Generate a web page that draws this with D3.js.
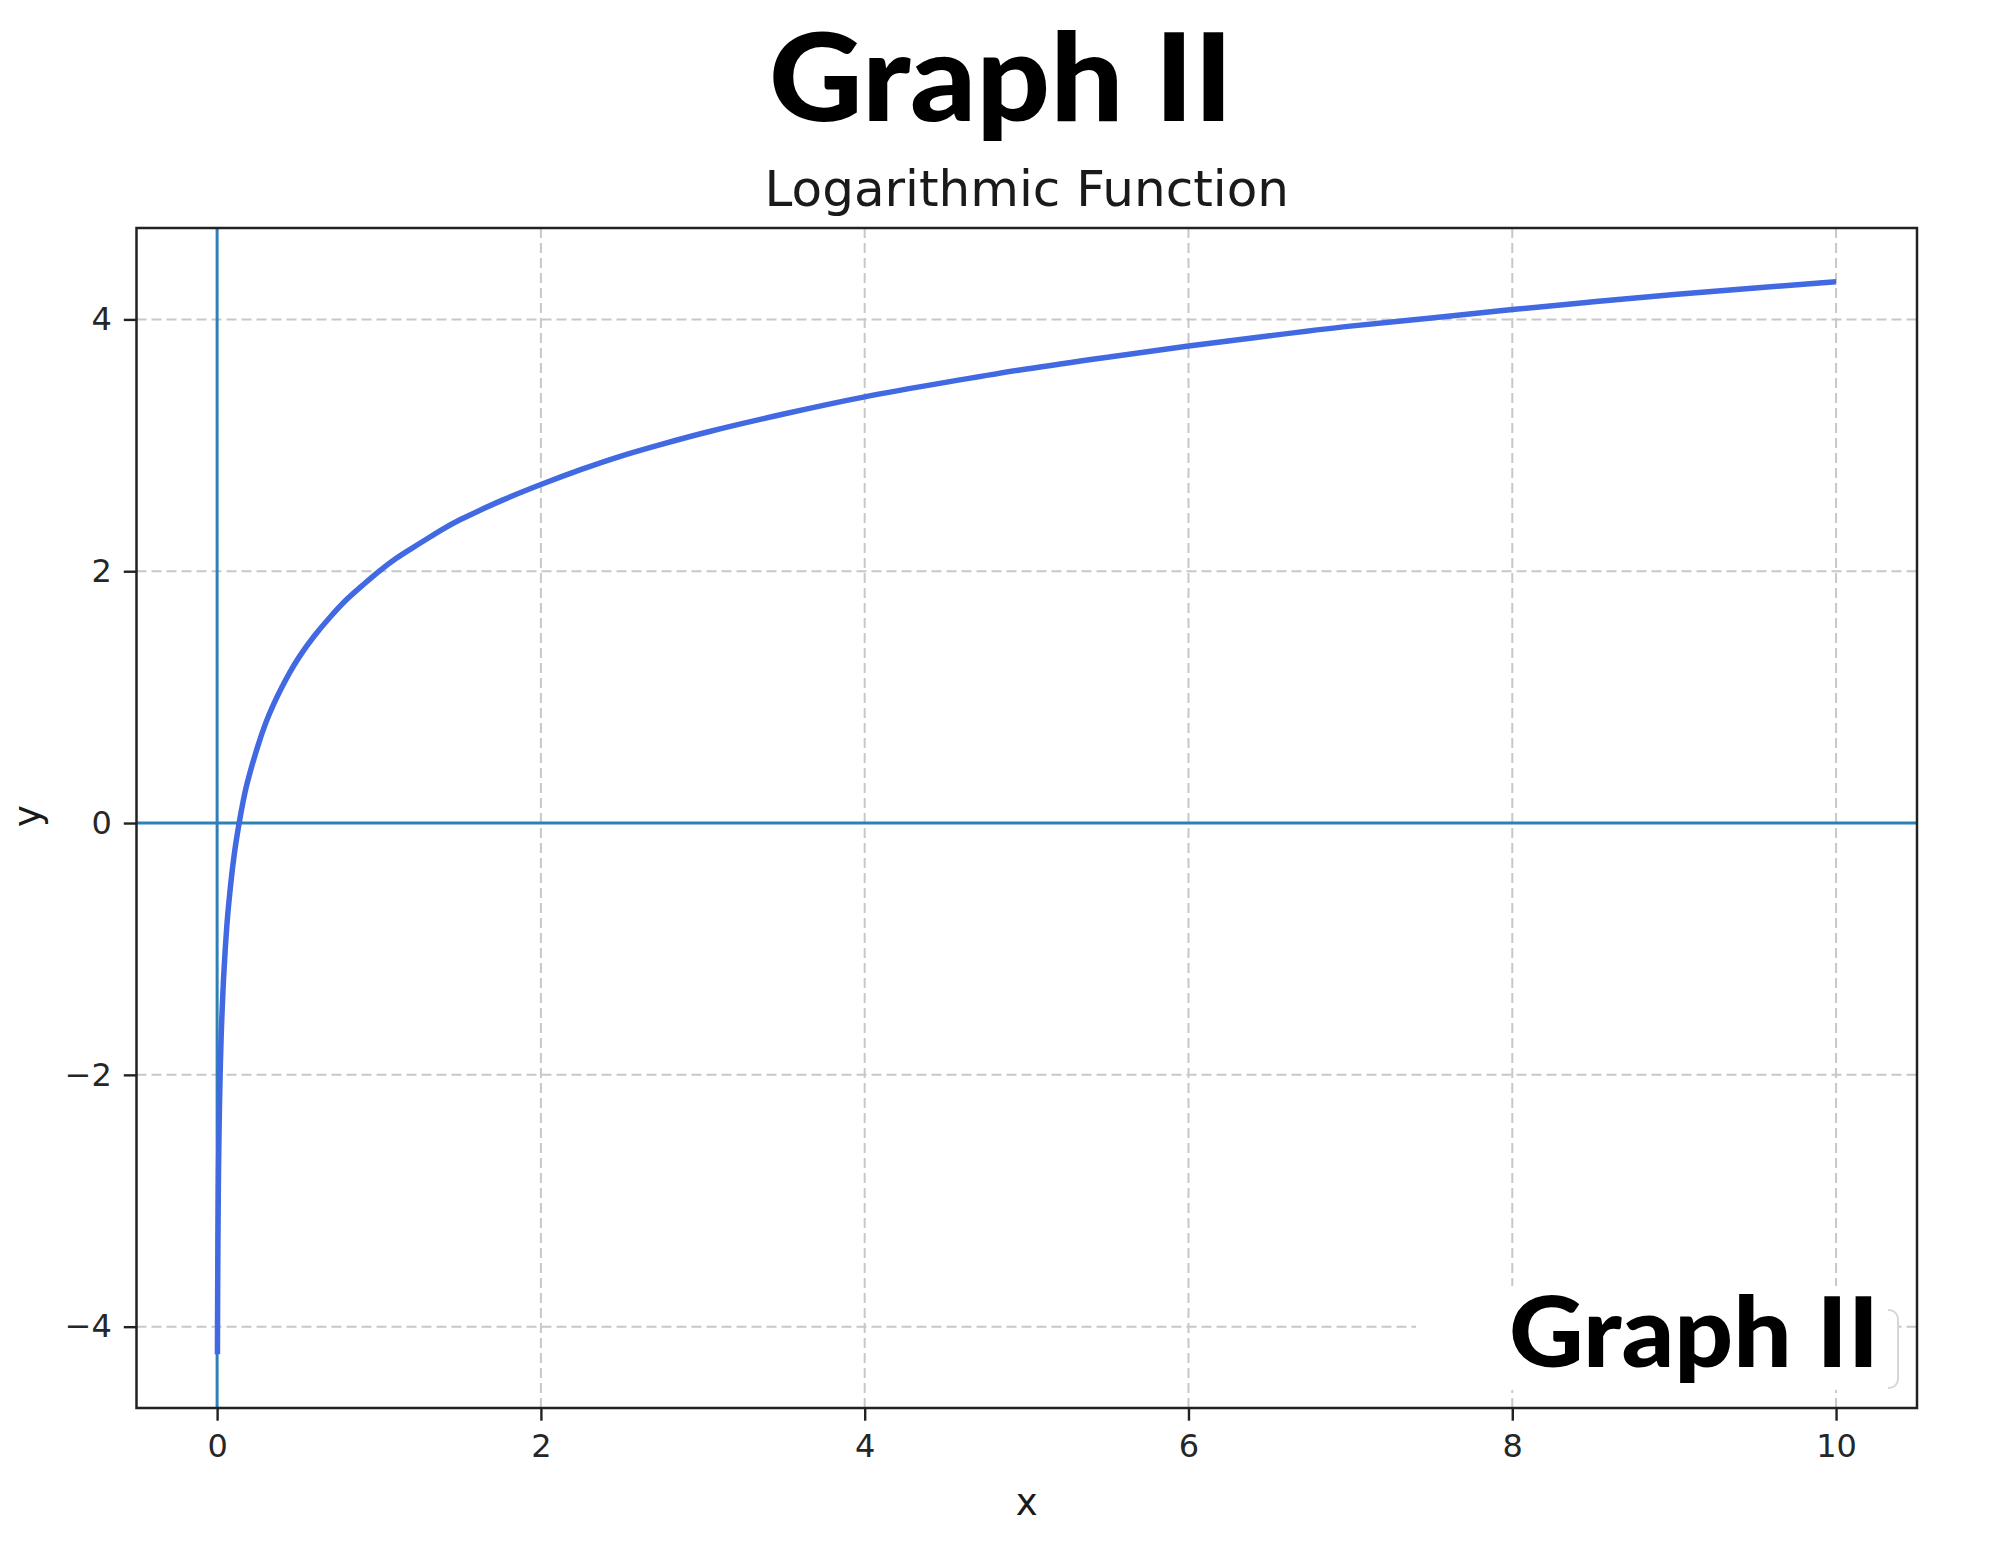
<!DOCTYPE html>
<html><head><meta charset="utf-8">
<script src="https://cdn.jsdelivr.net/npm/d3@7"></script>
<style>body{margin:0;background:#fff}</style></head>
<body><svg id="c" width="2000" height="1545"></svg>
<script>
// Values
const xValues = [0.002, 0.003, 0.005, 0.0075, 0.01, 0.015, 0.02, 0.025, 0.03, 0.04, 0.05, 0.06, 0.07, 0.085, 0.1, 0.12, 0.14, 0.16, 0.18, 0.2, 0.25, 0.3, 0.35, 0.4, 0.45, 0.5, 0.6, 0.7, 0.8, 0.9, 1.0, 1.1, 1.2, 1.3, 1.4, 1.5, 1.6, 1.75, 2.0, 2.25, 2.5, 2.75, 3.0, 3.5, 4.0, 4.5, 5.0, 5.5, 6.0, 6.5, 7.0, 7.5, 8.0, 8.5, 9.0, 9.5, 10];
const yValues = [-4.22, -3.81, -3.30, -2.89, -2.61, -2.20, -1.91, -1.69, -1.51, -1.22, -1.00, -0.81, -0.66, -0.47, -0.30, -0.12, 0.03, 0.17, 0.29, 0.39, 0.61, 0.80, 0.95, 1.08, 1.20, 1.31, 1.49, 1.64, 1.78, 1.89, 2.00, 2.10, 2.18, 2.26, 2.34, 2.41, 2.47, 2.56, 2.69, 2.81, 2.92, 3.01, 3.10, 3.25, 3.39, 3.50, 3.61, 3.70, 3.79, 3.87, 3.95, 4.01, 4.08, 4.14, 4.20, 4.25, 4.30];
const xTicks = [0, 2, 4, 6, 8, 10];
const yTicks = [-4, -2, 0, 2, 4];
const headline = "Graph II";
const chartTitle = "Logarithmic Function";
const xLabel = "x";
const yLabel = "y";

const svg = d3.select("#c");
const L = 136.5, R = 1917, T = 228, B = 1408;

const pad = (ext) => { const r = ext[1] - ext[0]; return [ext[0] - 0.05 * r, ext[1] + 0.05 * r]; };
const x = d3.scaleLinear().domain(pad(d3.extent(xValues))).range([L, R]);
const y = d3.scaleLinear().domain(pad(d3.extent(yValues))).range([B, T]);

svg.append("defs").append("clipPath").attr("id", "clip")
  .append("rect").attr("x", L).attr("y", T).attr("width", R - L).attr("height", B - T);

// grid
const grid = svg.append("g").attr("stroke", "#c8c8c8").attr("stroke-width", 2).attr("stroke-dasharray", "10,5");
grid.selectAll(".gx").data(xTicks).join("line")
  .attr("x1", d => x(d)).attr("x2", d => x(d)).attr("y1", T).attr("y2", B);
grid.selectAll(".gy").data(yTicks).join("line")
  .attr("x1", L).attr("x2", R).attr("y1", d => y(d)).attr("y2", d => y(d));

// axis lines at 0
const plot = svg.append("g").attr("clip-path", "url(#clip)");
plot.append("line").attr("x1", L).attr("x2", R).attr("y1", y(0)).attr("y2", y(0))
  .attr("stroke", "#2f80b8").attr("stroke-width", 3);
plot.append("line").attr("x1", x(0)).attr("x2", x(0)).attr("y1", T).attr("y2", B)
  .attr("stroke", "#2f80b8").attr("stroke-width", 3);

// curve
const pts = xValues.map((v, i) => [v, yValues[i]]);
plot.append("path").datum(pts)
  .attr("fill", "none").attr("stroke", "#4169e1").attr("stroke-width", 5.5)
  .attr("d", d3.line().x(d => x(d[0])).y(d => y(d[1])).curve(d3.curveBasis));

// legend box (mostly hidden)
svg.append("rect").attr("x", 1700).attr("y", 1310).attr("width", 198).attr("height", 78).attr("rx", 9)
  .attr("fill", "#fff").attr("stroke", "#d6d6d6").attr("stroke-width", 2);

// frame
svg.append("rect").attr("x", L).attr("y", T).attr("width", R - L).attr("height", B - T)
  .attr("fill", "none").attr("stroke", "#222").attr("stroke-width", 2.5);

// axes
const fontTick = "DejaVu Sans";
const xa = svg.append("g").attr("transform", `translate(0,${B})`)
  .call(d3.axisBottom(x).tickValues(xTicks).tickSize(12.7).tickPadding(14).tickFormat(d3.format("d")));
const ya = svg.append("g").attr("transform", `translate(${L},0)`)
  .call(d3.axisLeft(y).tickValues(yTicks).tickSize(12.7).tickPadding(12).tickFormat(d3.format("d")));
[xa, ya].forEach(a => {
  a.select(".domain").remove();
  a.selectAll(".tick line").attr("stroke", "#222").attr("stroke-width", 2.4);
  a.selectAll(".tick text").attr("fill", "#262626").style("font-family", fontTick).style("font-size", "32px");
});

// titles
svg.append("text").attr("x", (L + R) / 2).attr("y", 206).attr("text-anchor", "middle")
  .style("font-family", fontTick).style("font-size", "50px").attr("fill", "#1a1a1a").text(chartTitle);
svg.append("text").attr("x", (L + R) / 2).attr("y", 1515).attr("text-anchor", "middle")
  .style("font-family", fontTick).style("font-size", "37px").attr("fill", "#1a1a1a").text(xLabel);
svg.append("text").attr("transform", "translate(40,816) rotate(-90)").attr("text-anchor", "middle")
  .style("font-family", fontTick).style("font-size", "37px").attr("fill", "#1a1a1a").text(yLabel);

// headline
svg.append("text").attr("x", 769).attr("y", 121).attr("textLength", 464).attr("lengthAdjust", "spacingAndGlyphs")
  .style("font-family", "Lato").style("font-weight", 900).style("font-size", "122px").attr("fill", "#000").text(headline);

// overlay label box bottom-right
svg.append("rect").attr("x", 1416).attr("y", 1286).attr("width", 472).attr("height", 104).attr("fill", "#fff");
svg.append("text").attr("x", 1509).attr("y", 1367).attr("textLength", 370).attr("lengthAdjust", "spacingAndGlyphs")
  .style("font-family", "Lato").style("font-weight", 900).style("font-size", "97px").attr("fill", "#000").text(headline);
</script>
</body></html>
